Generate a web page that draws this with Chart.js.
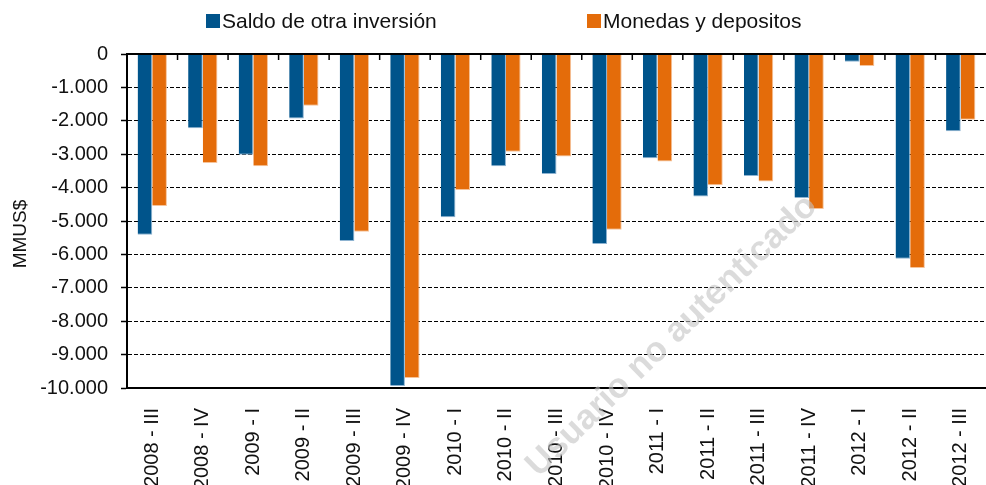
<!DOCTYPE html>
<html>
<head>
<meta charset="utf-8">
<script src="https://cdn.jsdelivr.net/npm/chart.js@4/dist/chart.umd.min.js"></script>
<style>
  body { margin: 0; background: #fff; }
  #wrap { position: relative; width: 986px; height: 485px; }
  .leg { position: absolute; top: 9px; display: flex; align-items: center;
         font: 21px "Liberation Sans", Arial, sans-serif; color: #111; }
  .leg span.box { display: inline-block; width: 14px; height: 14px; margin-right: 2px; }
</style>
</head>
<body>
<div id="wrap">
  <canvas id="chart"></canvas>
  <div class="leg" style="left:206px"><span class="box" style="background:#00548B"></span><span id="leg0"></span></div>
  <div class="leg" style="left:587px"><span class="box" style="background:#E46C0A"></span><span id="leg1"></span></div>
</div>
<script>
// quarters
const labels = ["2008 - III", "2008 - IV", "2009 - I", "2009 - II", "2009 - III", "2009 - IV",
                "2010 - I", "2010 - II", "2010 - III", "2010 - IV", "2011 - I", "2011 - II",
                "2011 - III", "2011 - IV", "2012 - I", "2012 - II", "2012 - III"];

// MMUS$
const saldo   = [-5410, -2220, -3020, -1930, -5600, -9940, -4890, -3360, -3590, -5690,
                 -3120, -4270, -3650, -4310, -230, -6130, -2310];
const monedas = [-4550, -3260, -3360, -1550, -5320, -9700, -4070, -2930, -3070, -5260,
                 -3220, -3930, -3820, -4640, -360, -6410, -1970];

const seriesNames = ["Saldo de otra inversión", "Monedas y depositos"];
const yMin = -10000, yMax = 0, yStep = 1000;

document.getElementById("leg0").textContent = seriesNames[0];
document.getElementById("leg1").textContent = seriesNames[1];

const FONT = "'Liberation Sans', Arial, sans-serif";

function fmt(v) {
    const s = Math.abs(v).toString().replace(/\B(?=(\d{3})+(?!\d))/g, ".");
    return (v < 0 ? "-" : "") + s;
}

// y title, watermark, solid zero line with small ticks between quarters
const overlay = {
    id: "overlay",
    afterDatasetsDraw(chart) {
        const { ctx, chartArea, scales: { x, y } } = chart;

        ctx.save();
        ctx.translate(21, 234);
        ctx.rotate(-Math.PI / 2);
        ctx.font = "19px " + FONT;
        ctx.fillStyle = "#111";
        ctx.textAlign = "center";
        ctx.textBaseline = "middle";
        ctx.fillText("MMUS$", 0, 0);
        ctx.restore();

        ctx.save();
        ctx.translate(672, 336);
        ctx.rotate(-44 * Math.PI / 180);
        ctx.font = "bold 35px " + FONT;
        ctx.fillStyle = "rgba(195,195,195,0.6)";
        ctx.textAlign = "center";
        ctx.textBaseline = "middle";
        ctx.fillText("Usuario no autenticado", 0, 0);
        ctx.restore();

        const y0 = y.getPixelForValue(0);
        const half = (x.getPixelForValue(1) - x.getPixelForValue(0)) / 2;
        ctx.save();
        ctx.strokeStyle = "#000";
        ctx.lineWidth = 2;
        ctx.beginPath();
        ctx.moveTo(chartArea.left, y0);
        ctx.lineTo(chartArea.right, y0);
        ctx.stroke();
        ctx.lineWidth = 1.5;
        for (let i = 1; i < labels.length; i++) {
            const xb = x.getPixelForValue(i) - half;
            ctx.beginPath();
            ctx.moveTo(xb, y0);
            ctx.lineTo(xb, y0 + 6);
            ctx.stroke();
        }
        ctx.restore();
    }
};

new Chart(document.getElementById("chart"), {
    type: "bar",
    data: {
        labels: labels,
        datasets: [
            {
                label: seriesNames[0],
                data: saldo,
                backgroundColor: "#00548B",
                borderColor: "#8DB3D1",
                borderWidth: { top: 0, left: 0, right: 1, bottom: 1 },
                borderSkipped: false
            },
            {
                label: seriesNames[1],
                data: monedas,
                backgroundColor: "#E46C0A",
                borderColor: "#F6C39A",
                borderWidth: { top: 0, left: 0, right: 1, bottom: 1 },
                borderSkipped: false
            }
        ]
    },
    options: {
        responsive: true,
        maintainAspectRatio: false,
        animation: false,
        categoryPercentage: 0.58,
        barPercentage: 1.0,
        layout: { padding: { top: 54, left: 0, right: -5, bottom: 0 } },
        plugins: {
            legend: { display: false },
            tooltip: { enabled: false }
        },
        scales: {
            x: {
                grid: { display: false },
                border: { display: true, color: "#000", width: 2 },
                ticks: {
                    color: "#111",
                    font: { family: FONT, size: 20 },
                    minRotation: 90,
                    maxRotation: 90,
                    autoSkip: false,
                    padding: 12
                },
                afterFit(scale) {
                    scale.height = 97;
                    scale.paddingLeft = 0;
                    scale.paddingRight = 0;
                }
            },
            y: {
                min: yMin,
                max: yMax,
                ticks: {
                    stepSize: yStep,
                    color: "#111",
                    font: { family: FONT, size: 20 },
                    padding: 13,
                    callback: (v) => fmt(v)
                },
                grid: {
                    color: "#000",
                    lineWidth: 1,
                    tickLength: 6,
                    tickColor: "#000",
                    tickWidth: 1.5
                },
                border: { display: true, color: "#000", width: 2, dash: [4, 2] },
                afterFit(scale) { scale.width = 127; }
            }
        }
    },
    plugins: [overlay]
});
</script>
</body>
</html>
